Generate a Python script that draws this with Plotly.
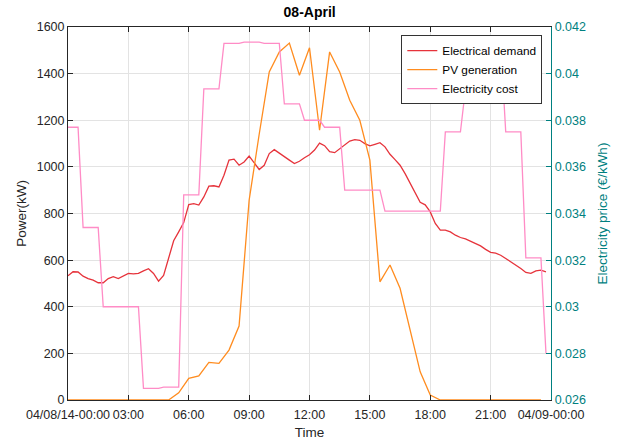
import pandas as pd
import plotly.graph_objects as go

# ---- data ----
demand_kw = [533, 550, 549, 531, 521, 514, 503, 503, 521, 529, 521, 533,
             543, 541, 543, 554, 563, 543, 510, 534, 614, 683, 721, 761,
             838, 842, 836, 871, 917, 919, 914, 964, 1029, 1033, 1007, 1021,
             1046, 1017, 989, 1007, 1057, 1074, 1060, 1043, 1029, 1014, 1024, 1039,
             1052, 1072, 1102, 1091, 1065, 1061, 1079, 1097, 1111, 1117, 1114, 1100,
             1090, 1097, 1104, 1086, 1054, 1031, 1007, 971, 929, 886, 848, 837,
             807, 757, 729, 729, 721, 707, 697, 691, 681, 671, 661, 646,
             633, 630, 621, 607, 593, 579, 564, 547, 543, 554, 557, 550]

pv_kw = [0, 0, 0, 0, 0, 0, 0, 0, 0, 0, 0, 31,
         93, 103, 161, 157, 214, 317, 857, 1140, 1407, 1493, 1531, 1393,
         1511, 1157, 1493, 1407, 1286, 1200, 1029, 507, 579, 479, 300, 121,
         21, 0, 0, 0, 0, 0, 0, 0, 0, 0, 0, 0]

cost_eur_kwh = [0.0377, 0.0377, 0.0377,
                0.0334, 0.0334, 0.0334, 0.0334,
                0.0300, 0.0300, 0.0300, 0.0300, 0.0300, 0.0300, 0.0300, 0.0300,
                0.0265, 0.0265, 0.0265, 0.0265,
                0.02655, 0.02655, 0.02655, 0.02655,
                0.0348, 0.0348, 0.0348, 0.0348,
                0.03935, 0.03935, 0.03935, 0.03935,
                0.0413, 0.0413, 0.0413, 0.0413,
                0.04135, 0.04135, 0.04135, 0.04135,
                0.0413, 0.0413, 0.0413, 0.0413,
                0.0387, 0.0387, 0.0387, 0.0387,
                0.0380, 0.0380, 0.0380, 0.0380,
                0.0377, 0.0377, 0.0377, 0.0377,
                0.0350, 0.0350, 0.0350, 0.0350, 0.0350, 0.0350, 0.0350, 0.0350,
                0.0341, 0.0341, 0.0341, 0.0341, 0.0341, 0.0341, 0.0341, 0.0341,
                0.0341, 0.0341, 0.0341, 0.0341,
                0.0375, 0.0375, 0.0375, 0.0375,
                0.03935, 0.03935, 0.03935, 0.03935,
                0.0413, 0.0413, 0.0413, 0.0413,
                0.0375, 0.0375, 0.0375, 0.0375,
                0.0321, 0.0321, 0.0321, 0.0321,
                0.0280]

times_15min = pd.date_range("2014-04-08 00:00", periods=96, freq="15min")
times_30min = pd.date_range("2014-04-08 00:00", periods=48, freq="30min")

x_tick_vals = pd.date_range("2014-04-08 00:00", periods=9, freq="3h")
x_tick_text = ["04/08/14-00:00", "03:00", "06:00", "09:00", "12:00",
               "15:00", "18:00", "21:00", "04/09-00:00"]
y_left_ticks = [0, 200, 400, 600, 800, 1000, 1200, 1400, 1600]
y_right_vals = [0.026, 0.028, 0.030, 0.032, 0.034, 0.036, 0.038, 0.040, 0.042]
y_right_text = ["0.026", "0.028", "0.03", "0.032", "0.034", "0.036", "0.038", "0.04", "0.042"]

series_names = ["Electrical demand", "PV generation", "Electricity cost"]
colors = ["#e6333b", "#ff8c1f", "#ff8cc6"]
teal = "#008080"
axis_col = "#262626"
font_family = "Arial, Liberation Sans, sans-serif"

fig = go.Figure()
fig.add_trace(go.Scatter(x=times_15min, y=demand_kw, name=series_names[0], mode="lines",
                         line=dict(color=colors[0], width=1.3), yaxis="y"))
fig.add_trace(go.Scatter(x=times_30min, y=pv_kw, name=series_names[1], mode="lines",
                         line=dict(color=colors[1], width=1.3), yaxis="y"))
fig.add_trace(go.Scatter(x=times_15min, y=cost_eur_kwh, name=series_names[2], mode="lines",
                         line=dict(color=colors[2], width=1.3), yaxis="y2"))

fig.update_layout(
    width=623, height=443,
    margin=dict(l=68, r=72, t=27, b=43, pad=0, autoexpand=False),
    paper_bgcolor="white", plot_bgcolor="white",
    font=dict(family=font_family, size=12.5, color=axis_col),
    title=dict(text="<b>08-April</b>", x=0.497, xanchor="center", xref="container",
               y=1 - 12 / 443, yanchor="middle", yref="container",
               font=dict(size=14, color="black")),
    showlegend=True,
    legend=dict(x=0.982, y=0.978, xanchor="right", yanchor="top",
                bgcolor="white", bordercolor="#333333", borderwidth=1,
                font=dict(size=11.8, color="black"), tracegroupgap=0),
    xaxis=dict(range=[times_15min[0], pd.Timestamp("2014-04-09 00:00")],
               tickvals=list(x_tick_vals), ticktext=x_tick_text,
               showline=True, linecolor=axis_col, linewidth=1, mirror="ticks",
               ticks="inside", ticklen=5, tickcolor=axis_col,
               showgrid=True, gridcolor="#e3e3e3", gridwidth=1, zeroline=False,
               tickangle=0, ticklabelstandoff=3, automargin=False,
               title=dict(text="Time", standoff=6, font=dict(size=13.5))),
    yaxis=dict(range=[0, 1600], tickvals=y_left_ticks,
               showline=True, linecolor=axis_col, linewidth=1,
               ticks="inside", ticklen=5, tickcolor=axis_col,
               showgrid=True, gridcolor="#e3e3e3", gridwidth=1, zeroline=False,
               automargin=False,
               title=dict(text="Power(kW)", standoff=6, font=dict(size=13.5))),
    yaxis2=dict(range=[0.026, 0.042], tickvals=y_right_vals, ticktext=y_right_text,
                overlaying="y", side="right", anchor="x",
                showline=True, linecolor=teal, linewidth=1.3,
                ticks="inside", ticklen=5, tickcolor=teal,
                tickfont=dict(color=teal), showgrid=False, zeroline=False,
                automargin=False,
                title=dict(text="Electricity price (€/kWh)", standoff=12,
                           font=dict(size=13.5, color=teal))),
)

fig.write_html("out.html")
